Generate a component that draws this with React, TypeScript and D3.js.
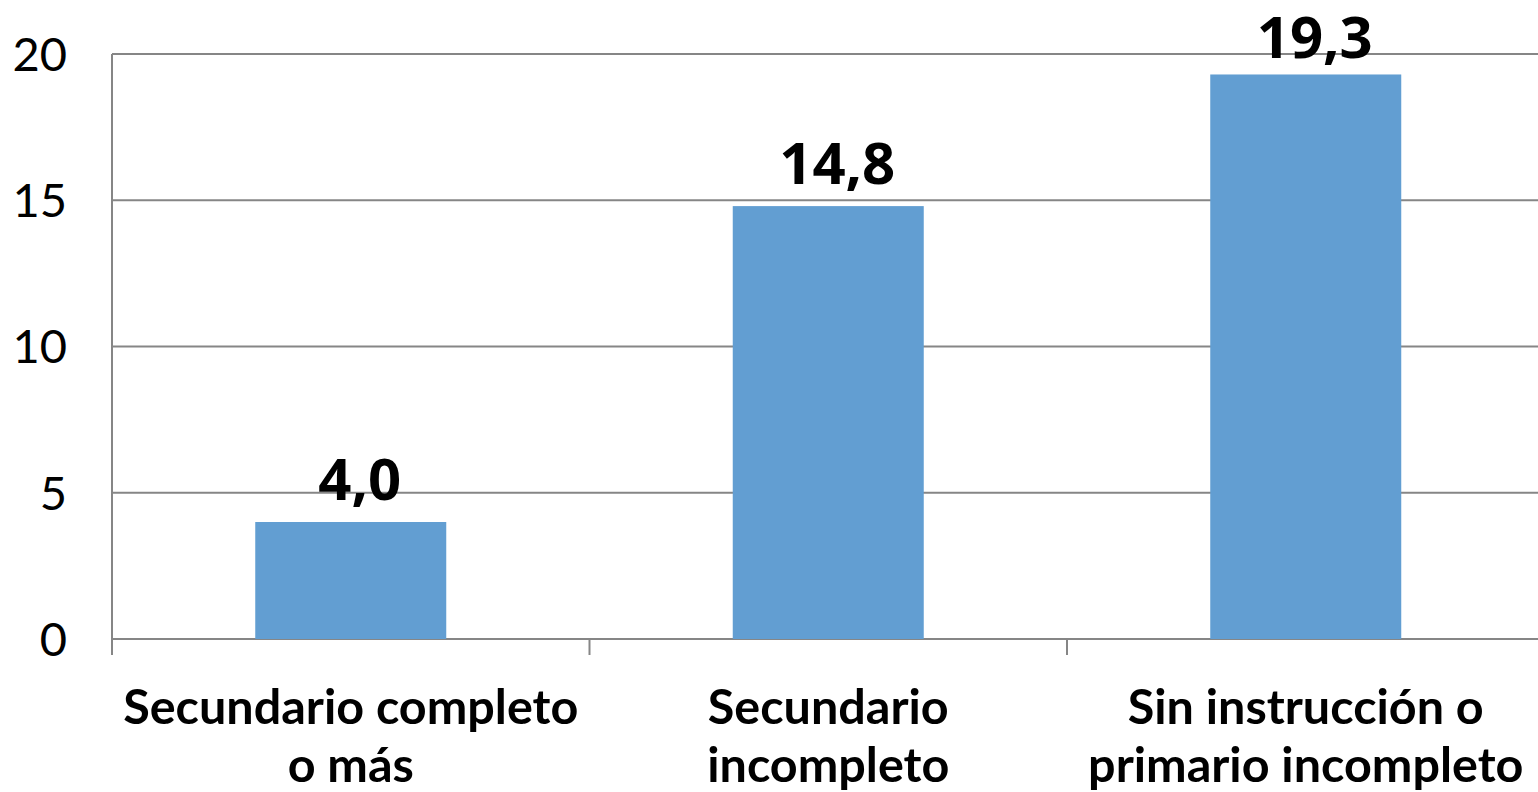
import React from "react";
import * as d3 from "d3";

const categories: string[][] = [
  ["Secundario completo", "o más"],
  ["Secundario", "incompleto"],
  ["Sin instrucción o", "primario incompleto"],
];
const values: number[] = [4.0, 14.8, 19.3];
const yTicks: number[] = [0, 5, 10, 15, 20];

const W = 1538;
const H = 792;
const left = 112;
const right = 1544.5;
const top = 54;
const bottom = 639;

export default function App() {
  const x = d3
    .scaleBand<number>()
    .domain(d3.range(values.length))
    .range([left, right])
    .paddingInner(0.6)
    .paddingOuter(0.3);
  const y = d3.scaleLinear().domain([0, 20]).range([bottom, top]);
  const band = (right - left) / values.length;
  const fmt = (v: number) => v.toFixed(1).replace(".", ",");

  return (
    <svg
      width={W}
      height={H}
      style={{ position: "fixed", left: 0, top: 0, background: "#fff" }}
    >
      {yTicks.map((t) => (
        <g key={t}>
          <line x1={left} x2={W} y1={y(t)} y2={y(t)} stroke="#868686" strokeWidth={2} />
          <text
            x={67}
            y={y(t)}
            dy="0.36em"
            textAnchor="end"
            fontFamily="Lato, sans-serif"
            fontSize={47}
            fill="#000"
          >
            {t}
          </text>
        </g>
      ))}
      <line x1={left} x2={left} y1={top} y2={655} stroke="#868686" strokeWidth={2} />
      {d3.range(values.length + 1).map((i) => (
        <line
          key={i}
          x1={left + i * band}
          x2={left + i * band}
          y1={bottom}
          y2={655}
          stroke="#868686"
          strokeWidth={2}
        />
      ))}
      {values.map((v, i) => (
        <g key={i}>
          <rect
            x={x(i)!}
            y={y(v)}
            width={x.bandwidth()}
            height={y(0) - y(v)}
            fill="#629ED2"
          />
          <text
            x={x(i)! + x.bandwidth() / 2 + 9}
            y={Math.max(y(v) - 22, 58)}
            textAnchor="middle"
            fontFamily="'Open Sans', sans-serif"
            fontWeight={700}
            fontSize={58}
            fill="#000"
          >
            {fmt(v)}
          </text>
          {categories[i].map((line, j) => (
            <text
              key={j}
              x={left + (i + 0.5) * band}
              y={724 + j * 58}
              textAnchor="middle"
              fontFamily="Lato, sans-serif"
              fontWeight={700}
              fontSize={48.5}
              fill="#000"
            >
              {line}
            </text>
          ))}
        </g>
      ))}
    </svg>
  );
}
